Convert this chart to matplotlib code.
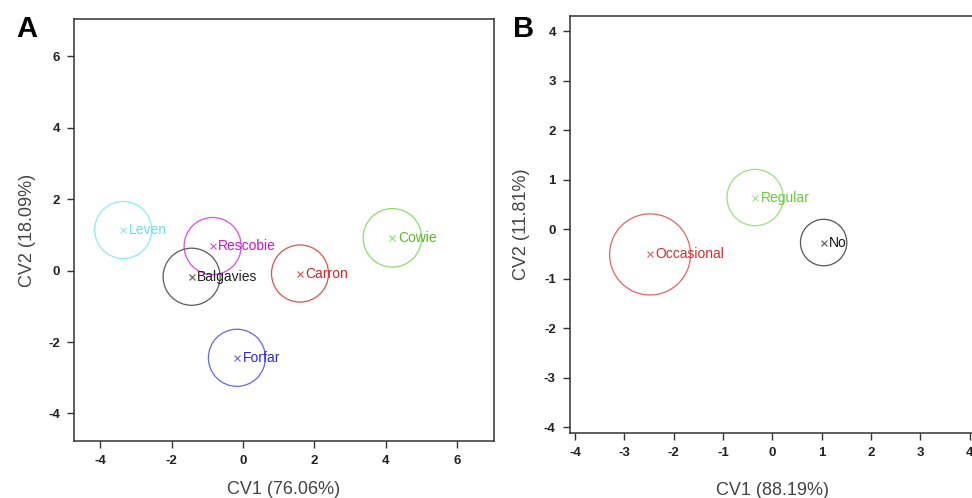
import numpy as np
import matplotlib.pyplot as plt
from matplotlib.patches import Circle

plt.rcParams['font.family'] = ['Liberation Sans', 'DejaVu Sans']
plt.rcParams['axes.unicode_minus'] = False

# Panel A: lakes
lakes = ['Leven', 'Rescobie', 'Balgavies', 'Carron', 'Cowie', 'Forfar']
lake_cv1 = [-3.36, -0.85, -1.44, 1.60, 4.19, -0.17]
lake_cv2 = [1.14, 0.69, -0.17, -0.08, 0.92, -2.44]
lake_r = [0.80, 0.80, 0.80, 0.80, 0.82, 0.80]
lake_circ = ['#86eef7', '#d64fe8', '#5a5a5a', '#e05050', '#8edb6a', '#6464f5']
lake_txt = ['#5fe3f0', '#cc11dd', '#222222', '#d92222', '#55bb22', '#2626ee']

# Panel B: consumption
groups = ['Occasional', 'Regular', 'No']
grp_cv1 = [-2.48, -0.35, 1.04]
grp_cv2 = [-0.51, 0.64, -0.27]
grp_r = [0.82, 0.57, 0.47]
grp_circ = ['#e86262', '#9ddf7f', '#555555']
grp_txt = ['#dd2a2a', '#66cc33', '#111111']


def draw_panel(ax, names, xs, ys, rs, ccol, tcol):
    for n, x, y, r, cc, tc in zip(names, xs, ys, rs, ccol, tcol):
        ax.add_patch(Circle((x, y), r, fill=False, ec=cc, lw=0.9))
        ax.plot(x, y, marker='x', ms=5, mew=0.8, color=cc, ls='none')
        ax.annotate(n, (x, y), xytext=(4, 0), textcoords='offset points',
                    va='center', ha='left', fontsize=10, color=tc)
    for s in ax.spines.values():
        s.set_color('#333333')
        s.set_linewidth(1.1)
    ax.tick_params(direction='out', length=5, width=1.0, color='#333333',
                   labelsize=9.5, pad=5)
    for lab in ax.get_xticklabels() + ax.get_yticklabels():
        lab.set_fontweight('bold')
        lab.set_color('#222222')


fig = plt.figure(figsize=(9.72, 4.98), dpi=100)

axA = fig.add_axes([0.0761, 0.1145, 0.4321, 0.8474])
axA.set_xlim(-4.74, 7.04)
axA.set_ylim(-4.77, 7.05)
axA.set_xticks([-4, -2, 0, 2, 4, 6])
axA.set_yticks([-4, -2, 0, 2, 4, 6])
draw_panel(axA, lakes, lake_cv1, lake_cv2, lake_r, lake_circ, lake_txt)
axA.set_xlabel('CV1 (76.06%)', fontsize=13, color='#444444', labelpad=10)
axA.set_ylabel('CV2 (18.09%)', fontsize=13, color='#444444', labelpad=9)

axB = fig.add_axes([0.5861, 0.1311, 0.4170, 0.8367])
axB.set_xlim(-4.11, 4.11)
axB.set_ylim(-4.115, 4.31)
axB.set_xticks(range(-4, 5))
axB.set_yticks(range(-4, 5))
draw_panel(axB, groups, grp_cv1, grp_cv2, grp_r, grp_circ, grp_txt)
axB.set_xlabel('CV1 (88.19%)', fontsize=13, color='#444444', labelpad=17)
axB.set_ylabel('CV2 (11.81%)', fontsize=13, color='#444444', labelpad=10)

fig.text(16 / 972, 1 - 37 / 498, 'A', fontsize=21, fontweight='bold')
fig.text(513 / 972, 1 - 37 / 498, 'B', fontsize=21, fontweight='bold')

fig.savefig('out.png', dpi=100)
